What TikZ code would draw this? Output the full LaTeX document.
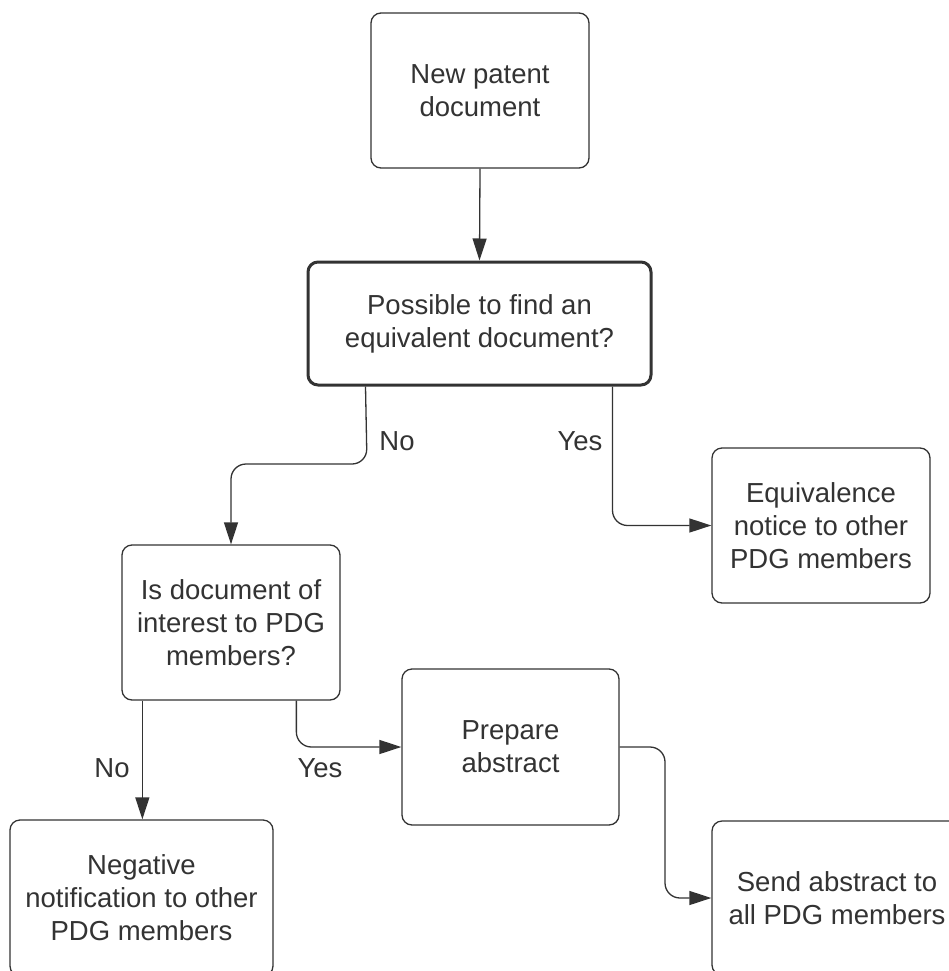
\documentclass[tikz,border=0pt]{standalone}
\usepackage{fontspec}
\setmainfont{Liberation Sans}
\usetikzlibrary{arrows.meta,calc}
\definecolor{ink}{HTML}{333333}
\tikzset{
  box/.style={draw=ink, line width=1.3pt, rounded corners=10pt, fill=white, text=ink,
    align=center, minimum width=218pt, minimum height=155pt, inner sep=0pt,
    font=\fontsize{27.5}{33}\selectfont},
  thickbox/.style={box, line width=3pt},
  conn/.style={draw=ink, line width=1.3pt, rounded corners=15pt,
    -{Triangle[length=22pt,width=14pt]}},
  lbl/.style={text=ink, font=\fontsize{27.5}{33}\selectfont, inner sep=0pt}
}
\begin{document}
\begin{tikzpicture}[x=1pt,y=-1pt]
\useasboundingbox (0,0) rectangle (949,971);
\node[box] (b1) at (480,90.5) {New patent\\document};
\node[thickbox, minimum width=343pt, minimum height=123pt] (b2) at (479.5,323.5) {Possible to find an\\equivalent document?};
\node[box] (b3) at (231,622.5) {Is document of\\interest to PDG\\members?};
\node[box] (b4) at (821,525.5) {Equivalence\\notice to other\\PDG members};
\node[box, minimum width=263pt, minimum height=156pt] (b5) at (141.5,898) {Negative\\notification to other\\PDG members};
\node[box, minimum width=217pt, minimum height=156pt] (b6) at (510.5,747) {Prepare\\abstract};
\node[box, minimum width=250pt, minimum height=154pt] (b7) at (837,898) {Send abstract to\\all PDG members};

\coordinate (n1) at ($(b2.south west)+(59,0)$);
\coordinate (y1) at ($(b2.south west)+(306,0)$);
\coordinate (n2) at ($(b3.south west)+(21,0)$);
\coordinate (y2) at ($(b3.south west)+(175,0)$);

\draw[conn] (b1.south) -- (b2.north);
\draw[conn] (n1) -- (367,464) -- (231,464) -- (b3.north);
\draw[conn] (y1) |- (b4.west);
\draw[conn] (n2) -- (n2 |- b5.north);
\draw[conn] (y2) |- (b6.west);
\draw[conn] (b6.east) -- (665,747) -- (665,898) -- (b7.west);

\node[lbl] (l1) at (397,441) {No};
\node[lbl] (l2) at (580,441) {Yes};
\node[lbl] (l3) at (112,768) {No};
\node[lbl] (l4) at (320,768) {Yes};
\end{tikzpicture}
\end{document}
